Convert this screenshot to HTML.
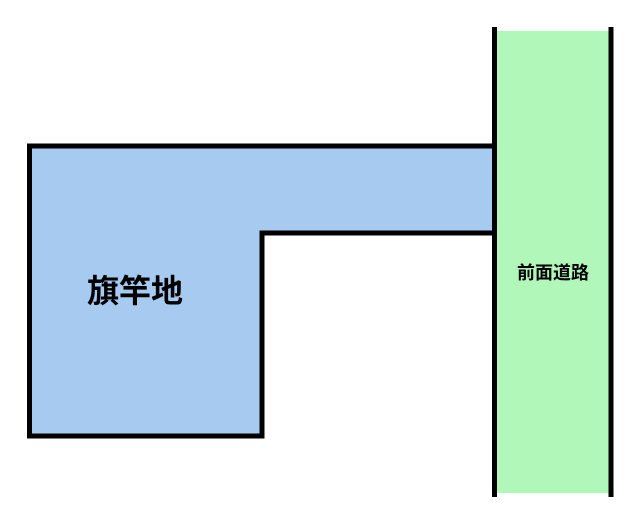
<!DOCTYPE html>
<html><head><meta charset="utf-8"><style>
html,body{margin:0;padding:0;background:#fff;width:640px;height:524px;overflow:hidden}
</style></head><body>
<svg width="640" height="524" xmlns="http://www.w3.org/2000/svg">
<rect x="497" y="31" width="113" height="462" fill="#b1f7b9"/>
<line x1="494.5" y1="27" x2="494.5" y2="497" stroke="#000" stroke-width="5"/>
<line x1="611" y1="27" x2="611" y2="497" stroke="#000" stroke-width="5"/>
<polygon points="29.5,146 494.5,146 494.5,233 262,233 262,436 29.5,436" fill="#a7caf0" stroke="#000" stroke-width="5"/>
<text x="135" y="302" font-family="Liberation Sans, Noto Sans CJK JP, sans-serif" font-weight="bold" font-size="32" text-anchor="middle" fill="#000">旗竿地</text>
<text x="553" y="279" font-family="Liberation Sans, Noto Sans CJK JP, sans-serif" font-weight="bold" font-size="18" text-anchor="middle" fill="#000">前面道路</text>
</svg>
</body></html>
